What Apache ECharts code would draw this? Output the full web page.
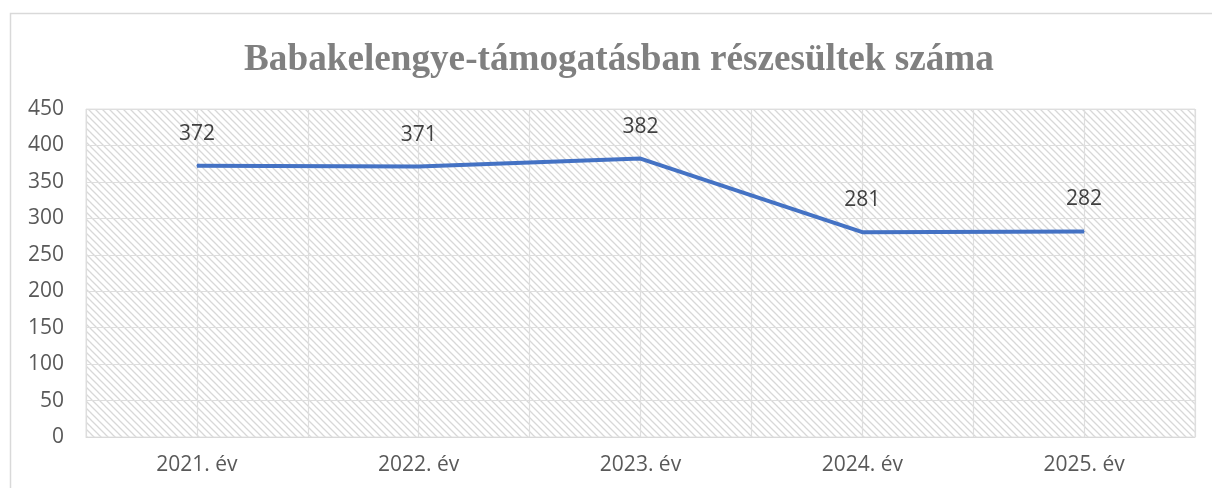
<!DOCTYPE html>
<html>
<head>
<meta charset="utf-8">
<script src="https://cdn.jsdelivr.net/npm/echarts@6/dist/echarts.min.js"></script>
<style>
  html, body { margin: 0; padding: 0; background: #fff; }
  #chart { width: 1212px; height: 488px; }
</style>
</head>
<body>
<div id="chart"></div>
<script>
const title = 'Babakelengye-támogatásban részesültek száma';
const categories = ['2021. év', '2022. év', '2023. év', '2024. év', '2025. év'];
const values = [372, 371, 382, 281, 282];
const yTicks = [0, 50, 100, 150, 200, 250, 300, 350, 400, 450];

const textFont = '"Open Sans", "Noto Sans", sans-serif';

// diagonal hatch for the plot area
function hatchPattern() {
    const s = 7;
    const c = document.createElement('canvas');
    c.width = s;
    c.height = s;
    const ctx = c.getContext('2d');
    ctx.fillStyle = '#ffffff';
    ctx.fillRect(0, 0, s, s);
    ctx.strokeStyle = '#d8d8d8';
    ctx.lineWidth = 1.3;
    ctx.beginPath();
    ctx.moveTo(-2, -2);
    ctx.lineTo(s + 2, s + 2);
    ctx.moveTo(-2, s - 2);
    ctx.lineTo(2, s + 2);
    ctx.moveTo(s - 2, -2);
    ctx.lineTo(s + 2, 2);
    ctx.stroke();
    return c;
}

const chart = echarts.init(document.getElementById('chart'), undefined, { renderer: 'canvas' });

chart.setOption({
    animation: false,
    title: {
        text: title,
        left: 614,
        textAlign: 'center',
        top: 37,
        textStyle: {
            fontFamily: '"Liberation Serif", "Times New Roman", serif',
            fontWeight: 'bold',
            fontSize: 37.2,
            color: '#808080'
        }
    },
    graphic: [{
        type: 'rect',
        shape: { x: 10.5, y: 13.5, width: 1230, height: 500 },
        style: { fill: null, stroke: '#d9d9d9', lineWidth: 1.5 },
        silent: true
    }],
    grid: {
        left: 86,
        right: 17,
        top: 109,
        bottom: 51,
        show: true,
        backgroundColor: { image: hatchPattern(), repeat: 'repeat' },
        borderColor: '#e3e3e3',
        borderWidth: 1
    },
    xAxis: [{
        type: 'category',
        data: categories,
        boundaryGap: true,
        axisLine: { lineStyle: { color: '#d9d9d9' } },
        axisTick: { show: false },
        splitLine: { show: false },
        axisLabel: {
            color: '#595959',
            fontSize: 21,
            fontFamily: textFont,
            margin: 18
        }
    }, {
        type: 'value',
        min: 0,
        max: categories.length * 2,
        interval: 1,
        axisLine: { show: false },
        axisTick: { show: false },
        axisLabel: { show: false },
        splitLine: { show: true, lineStyle: { color: '#dedede', width: 1.2 } }
    }],
    yAxis: {
        type: 'value',
        min: yTicks[0],
        max: yTicks[yTicks.length - 1],
        interval: yTicks[1] - yTicks[0],
        axisLine: { show: false },
        axisTick: { show: false },
        axisLabel: {
            color: '#595959',
            fontSize: 21,
            fontFamily: textFont,
            margin: 22
        },
        splitLine: { lineStyle: { color: '#dedede', width: 1.2 } }
    },
    series: [{
        type: 'line',
        xAxisIndex: 0,
        data: values,
        symbol: 'circle',
        symbolSize: 1,
        showSymbol: true,
        itemStyle: { color: '#4472C4' },
        lineStyle: { color: '#4472C4', width: 4 },
        label: {
            show: true,
            position: 'top',
            distance: 21,
            color: '#404040',
            fontSize: 21,
            fontFamily: textFont
        }
    }]
});
</script>
</body>
</html>
